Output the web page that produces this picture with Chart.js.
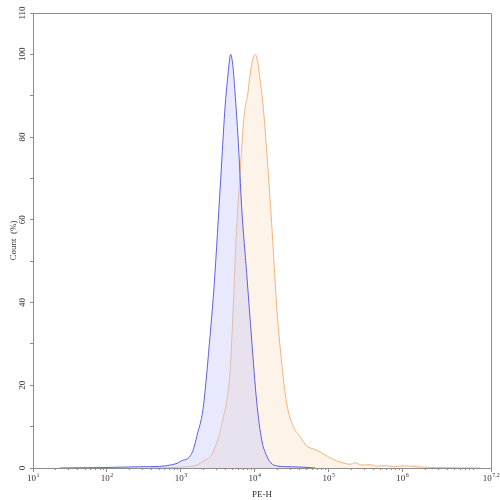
<!DOCTYPE html>
<html>
<head>
<meta charset="utf-8">
<script src="https://cdn.jsdelivr.net/npm/chart.js@4.4.1/dist/chart.umd.min.js"></script>
<style>
  html, body { margin: 0; padding: 0; background: #fff; }
  #wrap { width: 500px; height: 500px; }
</style>
</head>
<body>
<div id="wrap"><canvas id="histChart"></canvas></div>
<script>
// PE-H intensities (blue sample)
const blueX = [23, 80, 279, 521, 713, 914, 1035, 1250, 1462, 1656, 1995, 2200, 2440, 2750, 2904,
  3220, 3614, 3970, 4356, 4742, 5094, 5420, 6010, 6683, 7812, 9124, 10670, 12470, 14580, 16680,
  19950, 30200, 45300, 65900];
const blueY = [0, 0.1, 0.3, 0.4, 0.7, 1.2, 1.8, 2.3, 4.2, 7.8, 14, 21, 30, 41, 47,
  60, 75, 87, 95, 100, 97, 91, 79, 63, 47, 31, 16, 6.8, 2.9, 1.2,
  0.5, 0.3, 0.2, 0];

// orange sample
const orangeX = [382, 783, 1138, 1640, 2128, 2485, 2754, 3062, 3394, 3730, 4188, 4638, 5142, 5596,
  6340, 7030, 7410, 8010, 8660, 9510, 10220, 10940, 11580, 13130, 15350, 17590, 19920, 24030,
  27230, 33480, 41220, 50800, 62500, 76900, 99800, 129700, 168000, 196400, 229600, 283100,
  366600, 451800, 586000, 759000, 1037000, 1416000, 1936000, 2939000, 11350000];
const orangeY = [0, 0.1, 0.3, 0.7, 1.9, 2.6, 4, 6, 8.5, 12, 16, 23, 39, 55,
  71, 83, 87, 90, 95, 99, 100, 98.5, 95.4, 87, 71, 55, 39, 23,
  15.5, 10, 7.6, 5.3, 4.6, 3.9, 2.7, 1.7, 1.1, 0.9, 1.3, 0.7,
  0.8, 0.4, 0.6, 0.3, 0.5, 0.4, 0.2, 0.1, 0];

// axis ticks
const xMajorExp = [1, 2, 3, 4, 5, 6, 7.2];
const yTicks = [0, 10, 20, 30, 40, 50, 60, 70, 80, 90, 100, 110];
const yLabelled = [0, 20, 40, 60, 80, 100, 110];

const serif = '"Liberation Serif", "DejaVu Serif", serif';
const axisGrey = '#8c8c8c';

function toPoints(xs, ys) {
  return xs.map((x, i) => ({ x: x, y: ys[i] }));
}

// minor ticks on the log axis and superscript decade labels
const logAxisPlugin = {
  id: 'logAxis',
  afterDraw(chart) {
    const ctx = chart.ctx;
    const xs = chart.scales.x;
    const base = xs.top;
    ctx.save();
    ctx.strokeStyle = axisGrey;
    ctx.lineWidth = 1;
    ctx.beginPath();
    for (let e = 1; e < 7.2; e++) {
      for (let m = 2; m <= 9; m++) {
        const v = m * Math.pow(10, e);
        if (v > xs.max) break;
        const px = Math.round(xs.getPixelForValue(v)) + 0.5;
        ctx.moveTo(px, base);
        ctx.lineTo(px, base + 2);
      }
    }
    ctx.stroke();

    ctx.fillStyle = '#333';
    ctx.textBaseline = 'alphabetic';
    xMajorExp.forEach(e => {
      const px = xs.getPixelForValue(Math.pow(10, e));
      ctx.font = '9px ' + serif;
      const wBase = ctx.measureText('10').width;
      ctx.font = '6px ' + serif;
      const sup = String(e);
      const wSup = ctx.measureText(sup).width;
      const left = px - (wBase + wSup) / 2;
      ctx.font = '9px ' + serif;
      ctx.textAlign = 'left';
      ctx.fillText('10', left, base + 13);
      ctx.font = '6px ' + serif;
      ctx.fillText(sup, left + wBase + 0.5, base + 9);
    });
    ctx.restore();
  }
};

const config = {
  type: 'line',
  data: {
    datasets: [{
      label: 'Sample A',
      data: toPoints(blueX, blueY),
      borderColor: 'rgb(95, 95, 225)',
      backgroundColor: 'rgba(200, 200, 250, 0.4)',
      borderWidth: 1,
      fill: 'origin',
      pointRadius: 0,
      cubicInterpolationMode: 'monotone'
    }, {
      label: 'Sample B',
      data: toPoints(orangeX, orangeY),
      borderColor: 'rgb(240, 180, 125)',
      backgroundColor: 'rgba(250, 220, 190, 0.35)',
      borderWidth: 1,
      fill: 'origin',
      pointRadius: 0,
      cubicInterpolationMode: 'monotone'
    }]
  },
  options: {
    responsive: true,
    maintainAspectRatio: false,
    animation: false,
    layout: { padding: { top: 13, right: 9, left: 0, bottom: 0 } },
    plugins: {
      legend: { display: false },
      tooltip: { enabled: false }
    },
    scales: {
      x: {
        type: 'logarithmic',
        min: 10,
        max: Math.pow(10, 7.2),
        afterBuildTicks: scale => {
          scale.ticks = xMajorExp.map(e => ({ value: Math.pow(10, e) }));
        },
        afterFit: scale => { scale.height = 32; },
        grid: {
          drawOnChartArea: false,
          drawTicks: true,
          tickLength: 4,
          tickColor: axisGrey
        },
        border: { color: axisGrey, width: 1 },
        ticks: { display: false },
        title: {
          display: true,
          text: 'PE-H',
          color: '#333',
          font: { family: serif, size: 9 },
          padding: { top: 14, bottom: 0 }
        }
      },
      y: {
        min: 0,
        max: 110,
        afterBuildTicks: scale => {
          scale.ticks = yTicks.map(v => ({ value: v }));
        },
        afterFit: scale => { scale.width = 33; },
        grid: {
          drawOnChartArea: false,
          drawTicks: true,
          tickLength: 3,
          tickColor: axisGrey
        },
        border: { color: axisGrey, width: 1 },
        ticks: {
          minRotation: 90,
          maxRotation: 90,
          crossAlign: 'center',
          padding: 1,
          color: '#333',
          font: { family: serif, size: 9 },
          callback: v => (yLabelled.includes(v) ? String(v) : '')
        },
        title: {
          display: true,
          text: 'Count  (%)',
          color: '#333',
          font: { family: serif, size: 9 },
          padding: { top: 8, bottom: 0 }
        }
      }
    }
  },
  plugins: [logAxisPlugin, {
    id: 'frame',
    afterDraw(chart) {
      const a = chart.chartArea;
      const ctx = chart.ctx;
      ctx.save();
      ctx.strokeStyle = axisGrey;
      ctx.lineWidth = 1;
      ctx.beginPath();
      ctx.moveTo(Math.round(a.left) + 0.5, Math.round(a.top) + 0.5);
      ctx.lineTo(Math.round(a.right) + 0.5, Math.round(a.top) + 0.5);
      ctx.lineTo(Math.round(a.right) + 0.5, Math.round(a.bottom) + 0.5);
      ctx.stroke();
      ctx.restore();
    }
  }]
};

new Chart(document.getElementById('histChart').getContext('2d'), config);
</script>
</body>
</html>
